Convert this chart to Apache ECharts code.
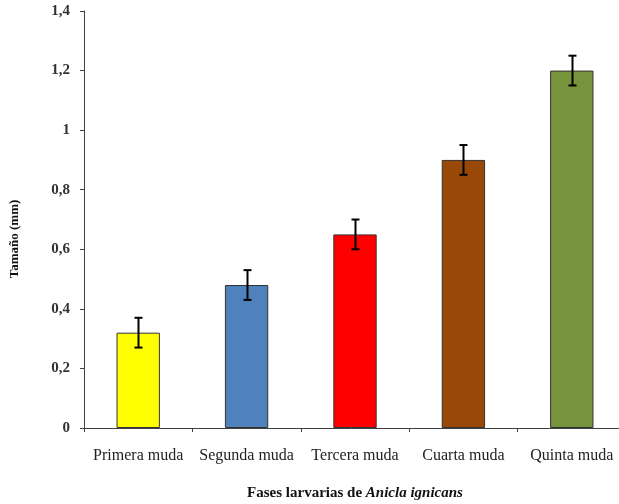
<!DOCTYPE html>
<html><head><meta charset="utf-8">
<script src="https://cdn.jsdelivr.net/npm/echarts@6/dist/echarts.min.js"></script>
<style>html,body{margin:0;padding:0;background:#fff;overflow:hidden}#c{width:619px;height:504px}</style>
</head><body><div id="c"></div>
<script>
var categories = ['Primera muda', 'Segunda muda', 'Tercera muda', 'Cuarta muda', 'Quinta muda'];
var values = [0.32, 0.48, 0.65, 0.90, 1.20];
var errors = [0.05, 0.05, 0.05, 0.05, 0.05];
var barColors = ['#FFFF00', '#4F81BD', '#FF0000', '#984807', '#77933C'];
var yTicks = [0, 0.2, 0.4, 0.6, 0.8, 1, 1.2, 1.4];

var chart = echarts.init(document.getElementById('c'), null, {renderer: 'canvas'});
var font = '"Liberation Serif", "DejaVu Serif", serif';
chart.setOption({
  animation: false,
  grid: {left: 84, width: 542, top: 11, height: 417, containLabel: false, outerBoundsMode: 'none'},
  xAxis: {
    type: 'category', data: categories,
    axisLine: {lineStyle: {color: '#404040', width: 1}},
    axisTick: {show: true, length: 4, alignWithLabel: false, lineStyle: {color: '#404040'}},
    axisLabel: {fontFamily: font, fontSize: 16, color: '#222', margin: 20, interval: 0, hideOverlap: false},
    name: '{a|Fases larvarias de }{b|Anicla ignicans}',
    nameLocation: 'middle', nameGap: 58,
    nameTextStyle: {
      rich: {
        a: {fontFamily: font, fontSize: 15, fontWeight: 'bold', color: '#111'},
        b: {fontFamily: font, fontSize: 15, fontWeight: 'bold', fontStyle: 'italic', color: '#111'}
      }
    }
  },
  yAxis: {
    type: 'value', min: 0, max: 1.4, interval: 0.2,
    axisLine: {show: true, lineStyle: {color: '#404040', width: 1}},
    axisTick: {show: true, length: 4, lineStyle: {color: '#404040'}},
    splitLine: {show: false},
    axisLabel: {
      fontFamily: font, fontSize: 15, fontWeight: 'bold', color: '#333', margin: 14,
      formatter: function (v) {
        var best = yTicks.reduce(function (p, t) { return Math.abs(t - v) < Math.abs(p - v) ? t : p; }, yTicks[0]);
        return String(best).replace('.', ',');
      }
    }
  },
  graphic: [{
    type: 'text', x: 15, y: 239, rotation: Math.PI / 2,
    style: {text: 'Tamaño (mm)', fontFamily: font, fontSize: 13, fontWeight: 'bold', fill: '#111',
      align: 'center', verticalAlign: 'middle'}
  }],
  series: [{
    type: 'bar', barWidth: '40%',
    data: values.map(function (v, i) {
      return {value: v, itemStyle: {color: barColors[i], borderColor: '#333', borderWidth: 1}};
    })
  }, {
    type: 'custom',
    data: values.map(function (v, i) { return [i, v - errors[i], v + errors[i]]; }),
    renderItem: function (params, api) {
      var lo = api.coord([api.value(0), api.value(1)]);
      var hi = api.coord([api.value(0), api.value(2)]);
      var x = Math.round(lo[0]) + 0.5, hw = 4;
      var st = {stroke: '#000', lineWidth: 2};
      return {type: 'group', children: [
        {type: 'line', shape: {x1: x, y1: lo[1], x2: x, y2: hi[1]}, style: st},
        {type: 'line', shape: {x1: x - hw, y1: lo[1], x2: x + hw, y2: lo[1]}, style: st},
        {type: 'line', shape: {x1: x - hw, y1: hi[1], x2: x + hw, y2: hi[1]}, style: st}
      ]};
    },
    z: 10
  }]
});
</script></body></html>
